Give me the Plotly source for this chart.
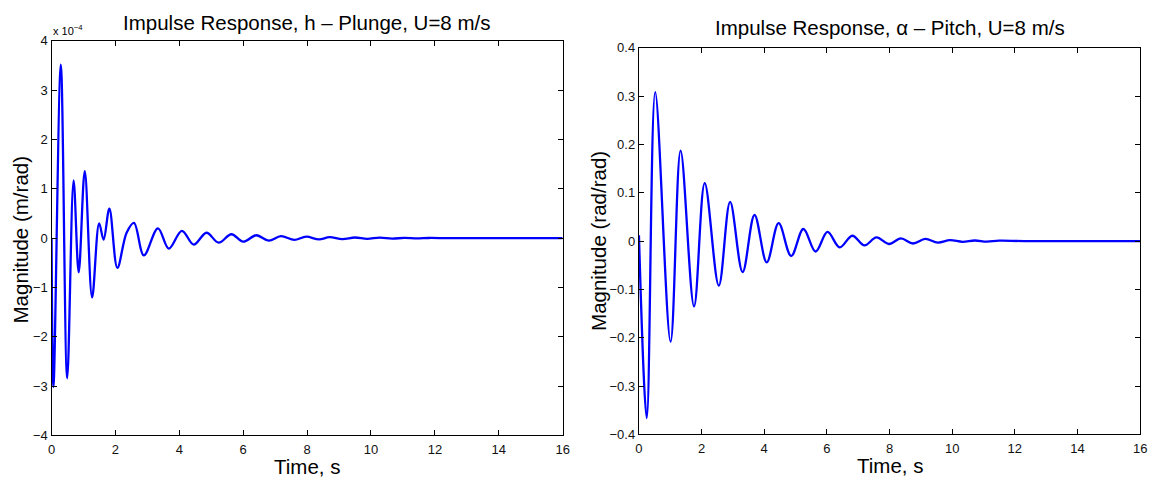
import plotly.graph_objects as go

# ---- data ----
# Plunge response h (values in units of 1e-4 m/rad)
t_h = [0.0, 0.06, 0.29, 0.49, 0.69, 0.85, 1.04, 1.27, 1.49, 1.63, 1.81, 2.06,
       2.35, 2.58, 2.89, 3.33, 3.67, 4.08, 4.45, 4.85, 5.23, 5.63, 6.0, 6.41,
       6.8, 7.18, 7.6, 7.97, 8.37, 8.7, 9.1, 9.5, 9.88, 10.27, 10.66, 11.05,
       11.44, 11.8, 12.5, 16.0]
h_vals = [0.0, -3.02, 3.52, -2.84, 1.17, -0.69, 1.36, -1.2, 0.3, -0.03, 0.6, -0.6,
          0.11, 0.31, -0.35, 0.2, -0.21, 0.15, -0.13, 0.11, -0.09, 0.08, -0.07, 0.06,
          -0.05, 0.04, -0.035, 0.03, -0.025, 0.02, -0.017, 0.014, -0.012, 0.01, -0.008, 0.006,
          -0.005, 0.004, 0.0, 0.0]

# Pitch response alpha (rad/rad)
t_a = [0.0, 0.25, 0.52, 1.01, 1.33, 1.76, 2.10, 2.55, 2.91, 3.31, 3.69, 4.08,
       4.46, 4.86, 5.25, 5.64, 6.02, 6.41, 6.81, 7.2, 7.58, 7.98, 8.36, 8.75,
       9.14, 9.54, 9.93, 10.33, 10.72, 11.1, 11.5, 12.3, 16.0]
a_vals = [0.012, -0.366, 0.308, -0.208, 0.187, -0.135, 0.12, -0.092, 0.081, -0.064, 0.054, -0.044,
          0.037, -0.031, 0.025, -0.0215, 0.019, -0.013, 0.011, -0.009, 0.0075, -0.006, 0.0055, -0.005,
          0.0045, -0.003, 0.002, -0.0015, 0.0012, -0.001, 0.0008, 0.0, 0.0]

x_ticks = [0, 2, 4, 6, 8, 10, 12, 14, 16]
h_ticks = [-4, -3, -2, -1, 0, 1, 2, 3, 4]
h_tick_text = ["\u22124", "\u22123", "\u22122", "\u22121", "0", "1", "2", "3", "4"]
a_ticks = [-0.4, -0.3, -0.2, -0.1, 0, 0.1, 0.2, 0.3, 0.4]
a_tick_text = ["\u22120.4", "\u22120.3", "\u22120.2", "\u22120.1", "0", "0.1", "0.2", "0.3", "0.4"]

W, H = 1162, 489
FONT = "Liberation Sans, Arial, sans-serif"
LBL = 20.5

fig = go.Figure()
fig.add_trace(go.Scatter(x=t_h, y=h_vals, mode="lines", xaxis="x", yaxis="y",
                         line=dict(color="#0000ff", width=2.3, shape="spline", smoothing=1.0),
                         showlegend=False))
fig.add_trace(go.Scatter(x=t_a, y=a_vals, mode="lines", xaxis="x2", yaxis="y2",
                         line=dict(color="#0000ff", width=2.3, shape="spline", smoothing=1.0),
                         showlegend=False))

axis_common = dict(showline=True, linecolor="black", linewidth=1.3, mirror="ticks",
                   ticks="inside", ticklen=5, tickwidth=1, tickcolor="black",
                   showgrid=False, zeroline=False,
                   tickfont=dict(family=FONT, size=13, color="#111111"))

fig.update_layout(
    width=W, height=H,
    margin=dict(l=0, r=0, t=0, b=0),
    paper_bgcolor="white", plot_bgcolor="white",
    xaxis=dict(domain=[48/W, 564/W], range=[0, 16], tickvals=x_ticks, anchor="y",
               ticklabelstandoff=2, **axis_common),
    yaxis=dict(domain=[1-442/H, 1-35/H], range=[-4, 4], tickvals=h_ticks, ticktext=h_tick_text,
               anchor="x", **axis_common),
    xaxis2=dict(domain=[641/W, 1147/W], range=[0, 16], tickvals=x_ticks, anchor="y2",
                ticklabelstandoff=2, **axis_common),
    yaxis2=dict(domain=[1-441/H, 1-42/H], range=[-0.4, 0.4], tickvals=a_ticks, ticktext=a_tick_text,
                anchor="x2", **axis_common),
)

ann = [
    dict(text="Impulse Response, h \u2013 Plunge, U=8 m/s", x=306/W, y=1-15.5/H),
    dict(text="Impulse Response, \u03b1 \u2013 Pitch, U=8 m/s", x=894/W, y=1-21/H),
    dict(text="Time, s", x=306/W, y=1-474.5/H),
    dict(text="Time, s", x=894/W, y=1-473.5/H),
]
for a in ann:
    fig.add_annotation(text=a["text"], x=a["x"], y=a["y"], xref="paper", yref="paper",
                       showarrow=False, xanchor="center", yanchor="middle",
                       font=dict(family=FONT, size=LBL, color="black"))
fig.add_annotation(text="Magnitude (m/rad)", x=17/W, y=1-240/H, xref="paper", yref="paper",
                   showarrow=False, textangle=-90, xanchor="center", yanchor="middle",
                   font=dict(family=FONT, size=LBL, color="black"))
fig.add_annotation(text="Magnitude (rad/rad)", x=600/W, y=1-241/H, xref="paper", yref="paper",
                   showarrow=False, textangle=-90, xanchor="center", yanchor="middle",
                   font=dict(family=FONT, size=LBL, color="black"))
fig.add_annotation(text="x 10<sup>\u22124</sup>", x=47/W, y=1-24/H, xref="paper", yref="paper",
                   showarrow=False, xanchor="left", yanchor="middle",
                   font=dict(family=FONT, size=11, color="black"))

fig.write_html("out.html")
